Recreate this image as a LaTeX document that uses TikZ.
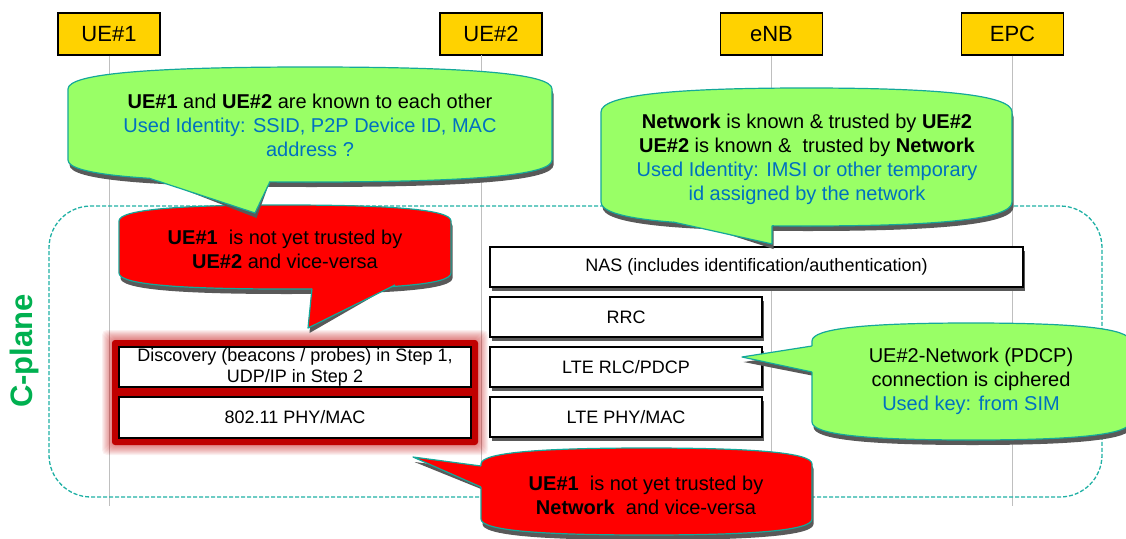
\documentclass[tikz,border=0pt]{standalone}
\usepackage{fontspec}
\setmainfont{Liberation Sans}
\usetikzlibrary{shadows}
\definecolor{hdrY}{HTML}{FFD200}
\definecolor{cG}{HTML}{99FF66}
\definecolor{cR}{HTML}{FF0000}
\definecolor{tealO}{HTML}{14A89A}
\definecolor{dashC}{HTML}{1FB0A4}
\definecolor{blueT}{HTML}{0070C0}
\definecolor{planeG}{HTML}{00B050}
\definecolor{shd}{HTML}{595959}
\definecolor{lifeC}{HTML}{BFBFBF}
\definecolor{glowR}{HTML}{C00000}
\tikzset{
 bub/.style n args={5}{insert path={
  ({#1},{#2+#5}) .. controls ({#1},{#2+0.3*#5}) and ({(#1+#3)/2-0.33*(#3-#1)},{#2}) .. ({(#1+#3)/2},{#2})
  .. controls ({(#1+#3)/2+0.33*(#3-#1)},{#2}) and ({#3},{#2+0.3*#5}) .. ({#3},{#2+#5})
  -- ({#3},{#4-#5})
  .. controls ({#3},{#4-0.3*#5}) and ({(#1+#3)/2+0.33*(#3-#1)},{#4}) .. ({(#1+#3)/2},{#4})
  .. controls ({(#1+#3)/2-0.33*(#3-#1)},{#4}) and ({#1},{#4-0.3*#5}) .. ({#1},{#4-#5})
  -- cycle}},
 hdr/.style={draw=black, line width=1.2pt, fill=hdrY, minimum width=102pt, minimum height=42pt, inner sep=0pt, font=\fontsize{22}{26}\selectfont},
 life/.style={draw=lifeC, line width=1pt},
 layer/.style={draw=black, line width=1.5pt, fill=white, inner sep=0pt, minimum height=40pt, font=\fontsize{18}{21}\selectfont, align=center},
 lshadow/.style={drop shadow={shadow xshift=2pt, shadow yshift=-4pt, fill=shd, opacity=1}},
 ctext/.style={align=center, inner sep=0pt, font=\fontsize{20}{24}\selectfont},
 outl/.style={draw=tealO, line width=1.2pt, line join=round},
}
\newcommand\mycallout[5]{%
 \begin{scope}[xshift=1.5pt,yshift=-5pt]
  \fill[shd, bub=#2];
  \fill[shd] #5;
 \end{scope}
 \path[fill=#1, outl, bub=#2];
 \fill[#1] #3;
 \draw[outl] #4;
}
\begin{document}
\begin{tikzpicture}[x=1pt,y=-1pt]
\useasboundingbox (0,0) rectangle (1126,538);
\clip (0,0) rectangle (1126,538);

% header boxes
\node[hdr] (ue1) at (109,34) {UE\#1};
\node[hdr] (ue2) at (491,34) {UE\#2};
\node[hdr] (enb) at (771.5,34) {eNB};
\node[hdr] (epc) at (1012.5,34) {EPC};

% lifelines
\coordinate (l1b) at (109,506);
\coordinate (l2t) at (481,55);
\coordinate (l2b) at (481,506);
\coordinate (l3b) at (771.5,506);
\coordinate (l4b) at (1012.5,506);
\draw[life] (ue1.south) -- (l1b);
\draw[life] (l2t) -- (l2b);
\draw[life] (enb.south) -- (l3b);
\draw[life] (epc.south) -- (l4b);

% C-plane frame
\node[draw=dashC, line width=1.3pt, dash pattern=on 4pt off 2pt, rounded corners=42pt,
      minimum width=1053pt, minimum height=291pt, inner sep=0pt] (cframe) at (575.5,351.5) {};
\node[rotate=90, text=planeG, font=\bfseries\fontsize{31}{31}\selectfont] (cplane) at (24,351) {C-plane};

% glow behind WLAN stack
\foreach \i in {1,...,10}
  \fill[glowR, opacity=0.06, rounded corners=5pt] ({112-\i},{340-\i}) rectangle ({478+\i},{445+\i});
\fill[glowR, rounded corners=3pt] (112,340) rectangle (478,445);

% WLAN stack
\node[layer, minimum width=352pt] (disc) at (295,367) {Discovery (beacons / probes) in Step 1,\\UDP/IP in Step 2};
\node[layer, minimum width=352pt, minimum height=41pt] (wmac) at (295,417.5) {802.11 PHY/MAC};

% LTE stack
\node[layer, lshadow, minimum width=533pt] (nas) at (756.5,267) {NAS (includes identification/authentication)};
\node[layer, lshadow, minimum width=272pt] (rrc) at (626,317) {RRC};
\node[layer, lshadow, minimum width=272pt] (rlc) at (626,367) {LTE RLC/PDCP};
\node[layer, lshadow, minimum width=272pt] (lmac) at (626,417) {LTE PHY/MAC};

% red callout 1
\mycallout{cR}{{119}{205}{451}{289}{16}}
 {(312,276) -- (312,288.5) -- (308,328) -- (395,285) -- (395,276) -- cycle}
 {(312,288.5) -- (308,328) -- (395,285)}
 {(312,278) -- (308,328) -- (395,278) -- cycle}
\node[ctext] (r1t) at (285,249) {\textbf{UE\#1}~ is not yet trusted by\\\textbf{UE\#2} and vice-versa};

% green callout 1
\mycallout{cG}{{68}{67}{552}{182}{22}}
 {(150,168) -- (150,178.5) -- (255,213) -- (270,181.5) -- (270,168) -- cycle}
 {(150,178.5) -- (255,213) -- (270,181.5)}
 {(150,172) -- (255,213) -- (270,172) -- cycle}
\node[ctext] (g1t) at (310,125) {\textbf{UE\#1} and \textbf{UE\#2} are known to each other\\\textcolor{blueT}{Used Identity: SSID, P2P Device ID, MAC}\\\textcolor{blueT}{address ?}};

% green callout 2
\mycallout{cG}{{601}{88}{1012}{226}{24}}
 {(673,210) -- (673,222) -- (772,244) -- (772,225.5) -- (772,210) -- cycle}
 {(673,222) -- (772,244) -- (772,225.5)}
 {(673,212) -- (772,244) -- (772,212) -- cycle}
\node[ctext] (g2t) at (807,159) {\textbf{Network} is known \& trusted by \textbf{UE\#2}\\\textbf{UE\#2} is known \&~ trusted by \textbf{Network}\\\textcolor{blueT}{Used Identity: IMSI or other temporary}\\\textcolor{blueT}{id assigned by the network}};

% green callout 3
\mycallout{cG}{{812}{323}{1130}{440}{18}}
 {(820,346) -- (812,346) -- (742,357) -- (812,372) -- (820,372) -- cycle}
 {(812,346) -- (742,357) -- (812,372)}
 {(818,346) -- (742,357) -- (818,372) -- cycle}
\node[ctext] (g3t) at (971,381) {UE\#2-Network (PDCP)\\connection is ciphered\\\textcolor{blueT}{Used key: from SIM}};

% red callout 2
\mycallout{cR}{{481}{448}{812}{535}{16}}
 {(489,466) -- (481,466) -- (413,457) -- (481,487) -- (489,487) -- cycle}
 {(481,466) -- (413,457) -- (481,487)}
 {(487,466) -- (413,457) -- (487,487) -- cycle}
\node[ctext] (r2t) at (646,495) {\textbf{UE\#1}~ is not yet trusted by\\\textbf{Network}~ and vice-versa};
\end{tikzpicture}
\end{document}
